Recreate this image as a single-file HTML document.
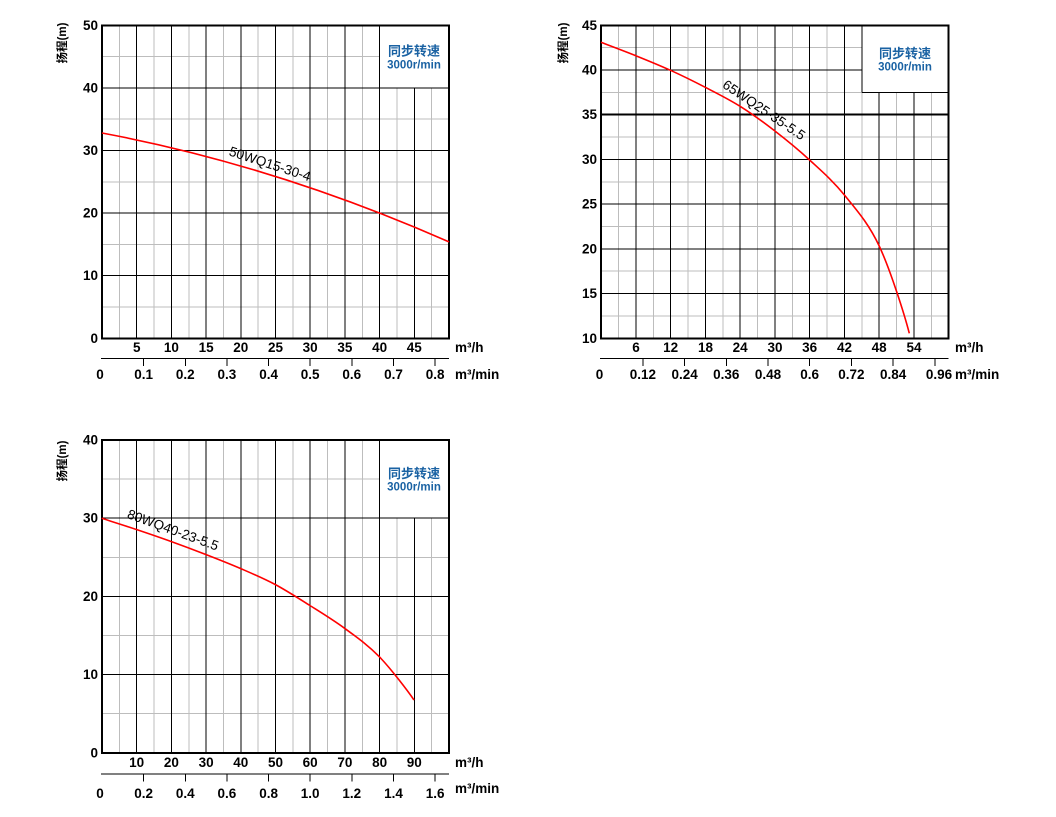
<!DOCTYPE html>
<html>
<head>
<meta charset="utf-8">
<style>
html,body{margin:0;padding:0;background:#fff;}
svg{display:block;}
text{font-family:"Liberation Sans",Arial,"Noto Sans CJK SC",sans-serif;}
.t{font-size:13.5px;font-weight:bold;fill:#000;}
.tc{font-size:13.5px;font-weight:bold;fill:#000;text-anchor:middle;}
.tr{font-size:13.5px;font-weight:bold;fill:#000;text-anchor:end;}
.yt{font-size:11.5px;font-weight:bold;fill:#000;text-anchor:middle;font-family:"Liberation Sans","Noto Sans CJK SC",sans-serif;}
.lg1{font-size:13px;font-weight:bold;fill:#1a62a3;text-anchor:middle;font-family:"Liberation Sans","Noto Sans CJK SC",sans-serif;}
.lg2{font-size:11.5px;font-weight:bold;fill:#1a62a3;text-anchor:middle;}
.cl{font-size:13.5px;fill:#000;text-anchor:middle;}
.g line{stroke:#bdbdbd;stroke-width:1;}
.b line{stroke:#000;stroke-width:1;}
</style>
</head>
<body>
<svg width="1056" height="817" viewBox="0 0 1056 817" xmlns="http://www.w3.org/2000/svg">
<rect x="0" y="0" width="1056" height="817" fill="#fff"/>

<!-- ================= CHART 1 ================= -->
<g shape-rendering="crispEdges">
<g class="g">
<line x1="119.35" y1="25.3" x2="119.35" y2="338.3"/>
<line x1="154.05" y1="25.3" x2="154.05" y2="338.3"/>
<line x1="188.75" y1="25.3" x2="188.75" y2="338.3"/>
<line x1="223.45" y1="25.3" x2="223.45" y2="338.3"/>
<line x1="258.15" y1="25.3" x2="258.15" y2="338.3"/>
<line x1="292.85" y1="25.3" x2="292.85" y2="338.3"/>
<line x1="327.55" y1="25.3" x2="327.55" y2="338.3"/>
<line x1="362.25" y1="25.3" x2="362.25" y2="338.3"/>
<line x1="396.95" y1="87.9" x2="396.95" y2="338.3"/>
<line x1="431.65" y1="87.9" x2="431.65" y2="338.3"/>
<line x1="102" y1="119.2" x2="449" y2="119.2"/>
<line x1="102" y1="181.8" x2="449" y2="181.8"/>
<line x1="102" y1="244.4" x2="449" y2="244.4"/>
<line x1="102" y1="307" x2="449" y2="307"/>
<line x1="102" y1="56.6" x2="379.6" y2="56.6"/>
</g>
<g class="b">
<line x1="136.7" y1="25.3" x2="136.7" y2="338.3"/>
<line x1="171.4" y1="25.3" x2="171.4" y2="338.3"/>
<line x1="206.1" y1="25.3" x2="206.1" y2="338.3"/>
<line x1="240.8" y1="25.3" x2="240.8" y2="338.3"/>
<line x1="275.5" y1="25.3" x2="275.5" y2="338.3"/>
<line x1="310.2" y1="25.3" x2="310.2" y2="338.3"/>
<line x1="344.9" y1="25.3" x2="344.9" y2="338.3"/>
<line x1="379.6" y1="25.3" x2="379.6" y2="338.3"/>
<line x1="414.3" y1="87.9" x2="414.3" y2="338.3"/>
<line x1="102" y1="87.9" x2="449" y2="87.9"/>
<line x1="102" y1="150.5" x2="449" y2="150.5"/>
<line x1="102" y1="213.1" x2="449" y2="213.1"/>
<line x1="102" y1="275.7" x2="449" y2="275.7"/>
</g>
<rect x="102" y="25.3" width="347" height="313" fill="none" stroke="#000" stroke-width="2"/>
<line x1="101" y1="358.7" x2="449" y2="358.7" stroke="#000" stroke-width="1"/>
<g stroke="#000" stroke-width="1">
<line x1="143.6" y1="358.7" x2="143.6" y2="366"/>
<line x1="185.3" y1="358.7" x2="185.3" y2="366"/>
<line x1="226.9" y1="358.7" x2="226.9" y2="366"/>
<line x1="268.6" y1="358.7" x2="268.6" y2="366"/>
<line x1="310.2" y1="358.7" x2="310.2" y2="366"/>
<line x1="351.8" y1="358.7" x2="351.8" y2="366"/>
<line x1="393.5" y1="358.7" x2="393.5" y2="366"/>
<line x1="435.1" y1="358.7" x2="435.1" y2="366"/>
</g>
</g>
<path d="M102,133 Q275.5,165.5 449,241.9" fill="none" stroke="#ff0000" stroke-width="1.6"/>
<text class="cl" transform="translate(270,164) rotate(18)" dominant-baseline="central">50WQ15-30-4</text>
<text class="lg1" x="414" y="51" dominant-baseline="central">同步转速</text>
<text class="lg2" x="414" y="65.5" dominant-baseline="central">3000r/min</text>
<text class="yt" transform="translate(63,43) rotate(-90)" dominant-baseline="central">扬程(m)</text>
<g>
<text class="tr" x="98" y="25.3" dominant-baseline="central">50</text>
<text class="tr" x="98" y="87.9" dominant-baseline="central">40</text>
<text class="tr" x="98" y="150.5" dominant-baseline="central">30</text>
<text class="tr" x="98" y="213.1" dominant-baseline="central">20</text>
<text class="tr" x="98" y="275.7" dominant-baseline="central">10</text>
<text class="tr" x="98" y="338.3" dominant-baseline="central">0</text>
<text class="tc" x="136.7" y="347.7" dominant-baseline="central">5</text>
<text class="tc" x="171.4" y="347.7" dominant-baseline="central">10</text>
<text class="tc" x="206.1" y="347.7" dominant-baseline="central">15</text>
<text class="tc" x="240.8" y="347.7" dominant-baseline="central">20</text>
<text class="tc" x="275.5" y="347.7" dominant-baseline="central">25</text>
<text class="tc" x="310.2" y="347.7" dominant-baseline="central">30</text>
<text class="tc" x="344.9" y="347.7" dominant-baseline="central">35</text>
<text class="tc" x="379.6" y="347.7" dominant-baseline="central">40</text>
<text class="tc" x="414.3" y="347.7" dominant-baseline="central">45</text>
<text class="t" x="455" y="347.7" dominant-baseline="central">m³/h</text>
<text class="tc" x="100" y="374.5" dominant-baseline="central">0</text>
<text class="tc" x="143.6" y="374.5" dominant-baseline="central">0.1</text>
<text class="tc" x="185.3" y="374.5" dominant-baseline="central">0.2</text>
<text class="tc" x="226.9" y="374.5" dominant-baseline="central">0.3</text>
<text class="tc" x="268.6" y="374.5" dominant-baseline="central">0.4</text>
<text class="tc" x="310.2" y="374.5" dominant-baseline="central">0.5</text>
<text class="tc" x="351.8" y="374.5" dominant-baseline="central">0.6</text>
<text class="tc" x="393.5" y="374.5" dominant-baseline="central">0.7</text>
<text class="tc" x="435.1" y="374.5" dominant-baseline="central">0.8</text>
<text class="t" x="455" y="374.5" dominant-baseline="central">m³/min</text>
</g>

<!-- ================= CHART 2 ================= -->
<g shape-rendering="crispEdges">
<g class="g">
<line x1="618.6" y1="25.3" x2="618.6" y2="338.3"/>
<line x1="653.3" y1="25.3" x2="653.3" y2="338.3"/>
<line x1="688.1" y1="25.3" x2="688.1" y2="338.3"/>
<line x1="722.8" y1="25.3" x2="722.8" y2="338.3"/>
<line x1="757.6" y1="25.3" x2="757.6" y2="338.3"/>
<line x1="792.3" y1="25.3" x2="792.3" y2="338.3"/>
<line x1="827.1" y1="25.3" x2="827.1" y2="338.3"/>
<line x1="861.8" y1="92.4" x2="861.8" y2="338.3"/>
<line x1="896.6" y1="92.4" x2="896.6" y2="338.3"/>
<line x1="931.3" y1="92.4" x2="931.3" y2="338.3"/>
<line x1="601" y1="137.1" x2="948.7" y2="137.1"/>
<line x1="601" y1="181.8" x2="948.7" y2="181.8"/>
<line x1="601" y1="226.5" x2="948.7" y2="226.5"/>
<line x1="601" y1="271.2" x2="948.7" y2="271.2"/>
<line x1="601" y1="315.9" x2="948.7" y2="315.9"/>
<line x1="601" y1="47.7" x2="861.8" y2="47.7"/>
<line x1="601" y1="92.4" x2="861.8" y2="92.4"/>
</g>
<g class="b">
<line x1="636" y1="25.3" x2="636" y2="338.3"/>
<line x1="670.7" y1="25.3" x2="670.7" y2="338.3"/>
<line x1="705.5" y1="25.3" x2="705.5" y2="338.3"/>
<line x1="740.2" y1="25.3" x2="740.2" y2="338.3"/>
<line x1="775" y1="25.3" x2="775" y2="338.3"/>
<line x1="809.7" y1="25.3" x2="809.7" y2="338.3"/>
<line x1="844.5" y1="25.3" x2="844.5" y2="338.3"/>
<line x1="879.2" y1="92.4" x2="879.2" y2="338.3"/>
<line x1="914" y1="92.4" x2="914" y2="338.3"/>
<line x1="601" y1="70" x2="861.8" y2="70"/>
<line x1="601" y1="159.4" x2="948.7" y2="159.4"/>
<line x1="601" y1="204.2" x2="948.7" y2="204.2"/>
<line x1="601" y1="248.9" x2="948.7" y2="248.9"/>
<line x1="601" y1="293.6" x2="948.7" y2="293.6"/>
<line x1="861.8" y1="25.3" x2="861.8" y2="92.4"/>
<line x1="861.8" y1="92.4" x2="948.7" y2="92.4"/>
</g>
<line x1="601" y1="114.7" x2="948.7" y2="114.7" stroke="#000" stroke-width="2"/>
<rect x="601.2" y="25.3" width="347.5" height="313" fill="none" stroke="#000" stroke-width="2"/>
<line x1="600" y1="358.7" x2="948.7" y2="358.7" stroke="#000" stroke-width="1"/>
<g stroke="#000" stroke-width="1">
<line x1="642.9" y1="358.7" x2="642.9" y2="366"/>
<line x1="684.6" y1="358.7" x2="684.6" y2="366"/>
<line x1="726.3" y1="358.7" x2="726.3" y2="366"/>
<line x1="768" y1="358.7" x2="768" y2="366"/>
<line x1="809.7" y1="358.7" x2="809.7" y2="366"/>
<line x1="851.4" y1="358.7" x2="851.4" y2="366"/>
<line x1="893.1" y1="358.7" x2="893.1" y2="366"/>
<line x1="934.8" y1="358.7" x2="934.8" y2="366"/>
</g>
</g>
<path d="M601,42.3 C606.8,44.53 624.22,51.03 635.8,55.7 C647.38,60.37 658.92,65.03 670.5,70.3 C682.08,75.57 693.7,81.3 705.3,87.3 C716.9,93.3 728.5,99.02 740.1,106.3 C751.7,113.58 763.32,122.05 774.9,131 C786.48,139.95 798.02,149.33 809.6,160 C821.18,170.67 832.8,180.67 844.4,195 C856,209.33 868.38,222.95 879.2,246 C890.02,269.05 904.3,313.8 909.3,333.3" fill="none" stroke="#ff0000" stroke-width="1.6"/>
<text class="cl" transform="translate(764,110) rotate(34)" dominant-baseline="central">65WQ25-35-5.5</text>
<text class="lg1" x="905" y="53.3" dominant-baseline="central">同步转速</text>
<text class="lg2" x="905" y="67.3" dominant-baseline="central">3000r/min</text>
<text class="yt" transform="translate(564,43) rotate(-90)" dominant-baseline="central">扬程(m)</text>
<g>
<text class="tr" x="597" y="25.3" dominant-baseline="central">45</text>
<text class="tr" x="597" y="70" dominant-baseline="central">40</text>
<text class="tr" x="597" y="114.7" dominant-baseline="central">35</text>
<text class="tr" x="597" y="159.4" dominant-baseline="central">30</text>
<text class="tr" x="597" y="204.2" dominant-baseline="central">25</text>
<text class="tr" x="597" y="248.9" dominant-baseline="central">20</text>
<text class="tr" x="597" y="293.6" dominant-baseline="central">15</text>
<text class="tr" x="597" y="338.3" dominant-baseline="central">10</text>
<text class="tc" x="636" y="347.7" dominant-baseline="central">6</text>
<text class="tc" x="670.7" y="347.7" dominant-baseline="central">12</text>
<text class="tc" x="705.5" y="347.7" dominant-baseline="central">18</text>
<text class="tc" x="740.2" y="347.7" dominant-baseline="central">24</text>
<text class="tc" x="775" y="347.7" dominant-baseline="central">30</text>
<text class="tc" x="809.7" y="347.7" dominant-baseline="central">36</text>
<text class="tc" x="844.5" y="347.7" dominant-baseline="central">42</text>
<text class="tc" x="879.2" y="347.7" dominant-baseline="central">48</text>
<text class="tc" x="914" y="347.7" dominant-baseline="central">54</text>
<text class="t" x="955" y="347.7" dominant-baseline="central">m³/h</text>
<text class="tc" x="599.5" y="374.5" dominant-baseline="central">0</text>
<text class="tc" x="642.9" y="374.5" dominant-baseline="central">0.12</text>
<text class="tc" x="684.6" y="374.5" dominant-baseline="central">0.24</text>
<text class="tc" x="726.3" y="374.5" dominant-baseline="central">0.36</text>
<text class="tc" x="768" y="374.5" dominant-baseline="central">0.48</text>
<text class="tc" x="809.7" y="374.5" dominant-baseline="central">0.6</text>
<text class="tc" x="851.4" y="374.5" dominant-baseline="central">0.72</text>
<text class="tc" x="893.1" y="374.5" dominant-baseline="central">0.84</text>
<text class="tc" x="939" y="374.5" dominant-baseline="central">0.96</text>
<text class="t" x="955" y="374.5" dominant-baseline="central">m³/min</text>
</g>

<!-- ================= CHART 3 ================= -->
<g shape-rendering="crispEdges">
<g class="g">
<line x1="119.35" y1="440" x2="119.35" y2="752.8"/>
<line x1="154.05" y1="440" x2="154.05" y2="752.8"/>
<line x1="188.75" y1="440" x2="188.75" y2="752.8"/>
<line x1="223.45" y1="440" x2="223.45" y2="752.8"/>
<line x1="258.15" y1="440" x2="258.15" y2="752.8"/>
<line x1="292.85" y1="440" x2="292.85" y2="752.8"/>
<line x1="327.55" y1="440" x2="327.55" y2="752.8"/>
<line x1="362.25" y1="440" x2="362.25" y2="752.8"/>
<line x1="396.95" y1="518.2" x2="396.95" y2="752.8"/>
<line x1="431.65" y1="518.2" x2="431.65" y2="752.8"/>
<line x1="102" y1="557.3" x2="449" y2="557.3"/>
<line x1="102" y1="635.5" x2="449" y2="635.5"/>
<line x1="102" y1="713.7" x2="449" y2="713.7"/>
<line x1="102" y1="479.1" x2="379.6" y2="479.1"/>
</g>
<g class="b">
<line x1="136.7" y1="440" x2="136.7" y2="752.8"/>
<line x1="171.4" y1="440" x2="171.4" y2="752.8"/>
<line x1="206.1" y1="440" x2="206.1" y2="752.8"/>
<line x1="240.8" y1="440" x2="240.8" y2="752.8"/>
<line x1="275.5" y1="440" x2="275.5" y2="752.8"/>
<line x1="310.2" y1="440" x2="310.2" y2="752.8"/>
<line x1="344.9" y1="440" x2="344.9" y2="752.8"/>
<line x1="379.6" y1="440" x2="379.6" y2="752.8"/>
<line x1="414.3" y1="518.2" x2="414.3" y2="752.8"/>
<line x1="102" y1="518.2" x2="449" y2="518.2"/>
<line x1="102" y1="596.4" x2="449" y2="596.4"/>
<line x1="102" y1="674.6" x2="449" y2="674.6"/>
</g>
<rect x="102" y="440" width="347" height="312.8" fill="none" stroke="#000" stroke-width="2"/>
<line x1="101" y1="774" x2="449" y2="774" stroke="#000" stroke-width="1"/>
<g stroke="#000" stroke-width="1">
<line x1="143.6" y1="774" x2="143.6" y2="781.7"/>
<line x1="185.3" y1="774" x2="185.3" y2="781.7"/>
<line x1="226.9" y1="774" x2="226.9" y2="781.7"/>
<line x1="268.6" y1="774" x2="268.6" y2="781.7"/>
<line x1="310.2" y1="774" x2="310.2" y2="781.7"/>
<line x1="351.8" y1="774" x2="351.8" y2="781.7"/>
<line x1="393.5" y1="774" x2="393.5" y2="781.7"/>
<line x1="435.1" y1="774" x2="435.1" y2="781.7"/>
</g>
</g>
<path d="M101.7,518.3 C107.5,520.2 124.8,525.6 136.4,529.5 C148,533.4 159.5,537.3 171.1,541.5 C182.7,545.7 194.2,550 205.8,554.5 C217.4,559 228.9,563.5 240.5,568.5 C252.1,573.5 263.6,578.3 275.2,584.5 C286.8,590.7 298.3,598.2 309.9,605.5 C321.5,612.8 333,619.8 344.6,628.3 C356.2,636.8 367.7,644.75 379.3,656.7 C390.9,668.65 408.2,691.5 414,700" fill="none" stroke="#ff0000" stroke-width="1.6"/>
<text class="cl" transform="translate(173,530) rotate(20)" dominant-baseline="central">80WQ40-23-5.5</text>
<text class="lg1" x="414" y="473.3" dominant-baseline="central">同步转速</text>
<text class="lg2" x="414" y="487.3" dominant-baseline="central">3000r/min</text>
<text class="yt" transform="translate(63,461) rotate(-90)" dominant-baseline="central">扬程(m)</text>
<g>
<text class="tr" x="98" y="440" dominant-baseline="central">40</text>
<text class="tr" x="98" y="518.2" dominant-baseline="central">30</text>
<text class="tr" x="98" y="596.4" dominant-baseline="central">20</text>
<text class="tr" x="98" y="674.6" dominant-baseline="central">10</text>
<text class="tr" x="98" y="752.8" dominant-baseline="central">0</text>
<text class="tc" x="136.7" y="762.3" dominant-baseline="central">10</text>
<text class="tc" x="171.4" y="762.3" dominant-baseline="central">20</text>
<text class="tc" x="206.1" y="762.3" dominant-baseline="central">30</text>
<text class="tc" x="240.8" y="762.3" dominant-baseline="central">40</text>
<text class="tc" x="275.5" y="762.3" dominant-baseline="central">50</text>
<text class="tc" x="310.2" y="762.3" dominant-baseline="central">60</text>
<text class="tc" x="344.9" y="762.3" dominant-baseline="central">70</text>
<text class="tc" x="379.6" y="762.3" dominant-baseline="central">80</text>
<text class="tc" x="414.3" y="762.3" dominant-baseline="central">90</text>
<text class="t" x="455" y="762.3" dominant-baseline="central">m³/h</text>
<text class="tc" x="100" y="793.5" dominant-baseline="central">0</text>
<text class="tc" x="143.6" y="793.5" dominant-baseline="central">0.2</text>
<text class="tc" x="185.3" y="793.5" dominant-baseline="central">0.4</text>
<text class="tc" x="226.9" y="793.5" dominant-baseline="central">0.6</text>
<text class="tc" x="268.6" y="793.5" dominant-baseline="central">0.8</text>
<text class="tc" x="310.2" y="793.5" dominant-baseline="central">1.0</text>
<text class="tc" x="351.8" y="793.5" dominant-baseline="central">1.2</text>
<text class="tc" x="393.5" y="793.5" dominant-baseline="central">1.4</text>
<text class="tc" x="435.1" y="793.5" dominant-baseline="central">1.6</text>
<text class="t" x="455" y="788.5" dominant-baseline="central">m³/min</text>
</g>
</svg>
</body>
</html>
